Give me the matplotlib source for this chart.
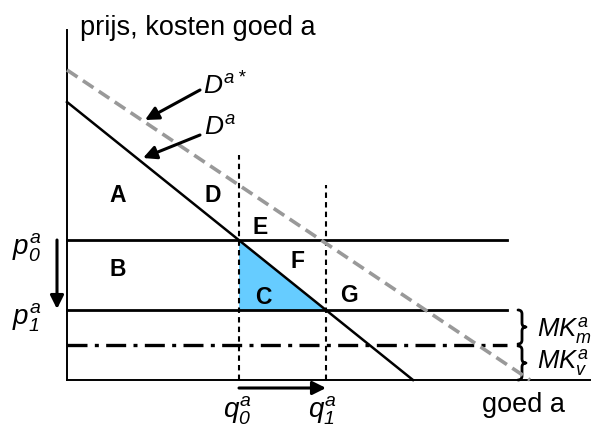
import matplotlib

matplotlib.use("Agg")
import matplotlib.pyplot as plt
from matplotlib.patches import Polygon, PathPatch
from matplotlib.path import Path

plt.rcParams["font.family"] = ["Liberation Sans", "DejaVu Sans"]
plt.rcParams["mathtext.fontset"] = "custom"
plt.rcParams["mathtext.it"] = "Liberation Sans:italic"
plt.rcParams["mathtext.rm"] = "Liberation Sans:italic"

# Diagram values (quantity, price) in arbitrary units, origin at the axis corner.
DEMAND_Q = [0, 346]
DEMAND_P = [278, 0]
DEMAND_STAR_Q = [0, 463]
DEMAND_STAR_P = [310, 0]
P0, P1, MK_V = 140, 70, 35
Q0, Q1 = 172, 259
LINE_END = 440
AREA_LABELS = ["A", "D", "E", "F", "B", "C", "G"]
AREA_POS = [(51, 184), (146, 184), (193, 153), (230, 118), (51, 110), (196, 83), (282, 85)]


def brace(ax, x, y0, y1, w=8):
    """Right-facing curly brace from y0 to y1 at x."""
    ym = (y0 + y1) / 2
    h = w / 2
    verts = [(x, y1), (x + h, y1), (x + h, y1 - 4),
             (x + h, ym + 4), (x + h, ym), (x + w, ym),
             (x + h, ym), (x + h, ym - 4),
             (x + h, y0 + 4), (x + h, y0), (x, y0)]
    codes = [Path.MOVETO, Path.CURVE3, Path.CURVE3,
             Path.LINETO, Path.CURVE3, Path.CURVE3,
             Path.CURVE3, Path.CURVE3,
             Path.LINETO, Path.CURVE3, Path.CURVE3]
    ax.add_patch(PathPatch(Path(verts, codes), fill=False, lw=2, color="k",
                           capstyle="round", joinstyle="round"))


fig = plt.figure(figsize=(5.92, 4.26), dpi=100)
ax = fig.add_axes([0, 0, 1, 1])
ax.set_xlim(-67, 525)
ax.set_ylim(-46, 380)
ax.axis("off")

# axes
ax.plot([0, 0], [0, 350], color="k", lw=1.4)
ax.plot([0, 523], [0, 0], color="k", lw=1.4)

# surplus triangle
ax.add_patch(Polygon([(Q0, P0), (Q0, P1), (Q1, P1)], closed=True,
                     facecolor="#66ccff", edgecolor="none"))

# horizontal price / cost lines
ax.plot([0, LINE_END], [P0, P0], color="k", lw=2)
ax.plot([0, LINE_END], [P1, P1], color="k", lw=2)
ax.plot([0, LINE_END], [MK_V, MK_V], color="k", lw=2.4, dashes=(6, 2.2, 1.2, 2.2))

# quantity markers
ax.plot([Q0, Q0], [0, 225], color="k", lw=1.5, dashes=(2.6, 2))
ax.plot([Q1, Q1], [0, 195], color="k", lw=1.5, dashes=(2.6, 2))

# demand curves
ax.plot(DEMAND_STAR_Q, DEMAND_STAR_P, color="#999999", lw=2.6, dashes=(3.5, 1.8))
ax.plot(DEMAND_Q, DEMAND_P, color="k", lw=1.8)

arrow = dict(arrowstyle="-|>", lw=2.2, color="k", mutation_scale=20, shrinkA=0, shrinkB=0)
ax.annotate("", xy=(78, 260), xytext=(133, 290), arrowprops=arrow)
ax.annotate("", xy=(76, 222), xytext=(133, 245), arrowprops=arrow)
ax.annotate("", xy=(-10, 71), xytext=(-10, 140), arrowprops=arrow)
ax.annotate("", xy=(Q1, -8), xytext=(Q0, -8), arrowprops=arrow)

for lab, (x, y) in zip(AREA_LABELS, AREA_POS):
    ax.text(x, y, lab, fontsize=16.5, fontweight="bold", ha="center", va="center")

ax.text(13, 352, "prijs, kosten goed a", fontsize=19.5, va="center")
ax.text(415, -25, "goed a", fontsize=19.5, va="center")
ax.text(136, 294, r"$D^{a*}$", fontsize=19, va="center")
ax.text(137, 252, r"$D^{a}$", fontsize=19, va="center")
ax.text(-55, 132, r"$p^{a}_{0}$", fontsize=20, va="center")
ax.text(-55, 62, r"$p^{a}_{1}$", fontsize=20, va="center")
ax.text(Q0 - 2, -31, r"$q^{a}_{0}$", fontsize=20, ha="center", va="center")
ax.text(Q1 - 4, -31, r"$q^{a}_{1}$", fontsize=20, ha="center", va="center")
ax.text(470, 50, r"$MK^{a}_{m}$", fontsize=18.5, va="center")
ax.text(470, 18, r"$MK^{a}_{v}$", fontsize=18.5, va="center")

brace(ax, 451, MK_V + 1, P1)
brace(ax, 451, 0, MK_V - 1)

fig.savefig("out.png", dpi=100)
